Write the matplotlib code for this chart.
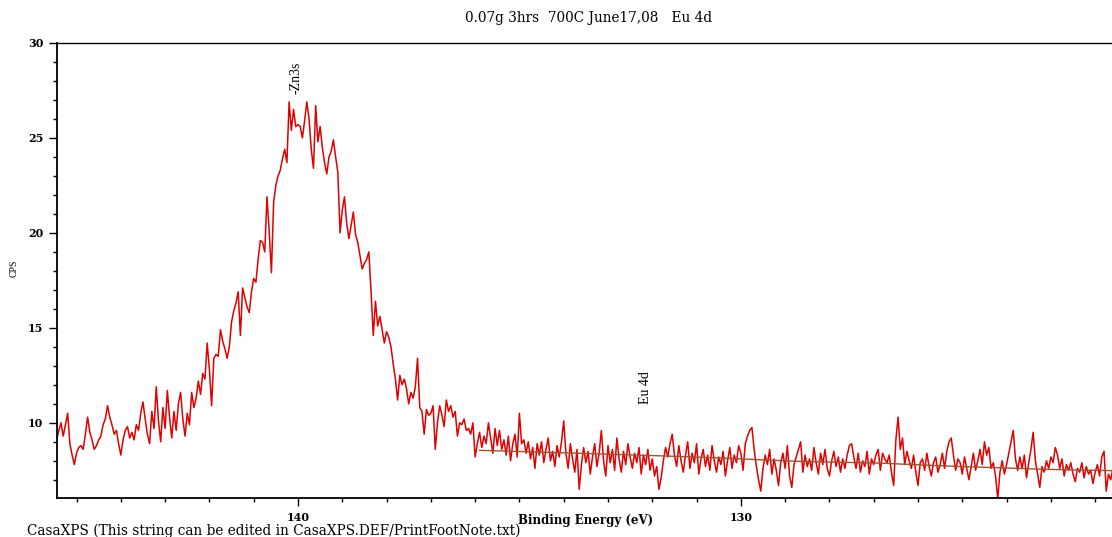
import numpy as np
import matplotlib
matplotlib.use("Agg")
import matplotlib.pyplot as plt
from matplotlib.ticker import MultipleLocator

# Eu 4d region scan, 0.05 eV steps starting at 145.45 eV
be_start = 145.45
be_step = 0.05
cps = [
    9.1, 9.6, 10.0, 9.3, 9.9, 10.5, 8.9, 8.3, 7.8, 8.4, 8.7, 8.8, 8.6, 9.4, 10.3, 9.5, 9.1, 8.6, 8.8, 9.1,
    9.3, 9.9, 10.2, 10.9, 10.3, 9.9, 9.4, 9.6, 8.9, 8.3, 9.1, 9.6, 9.8, 9.2, 9.5, 9.1, 9.9, 9.6, 10.5, 11.1,
    10.2, 9.4, 8.9, 10.6, 9.7, 11.9, 10.1, 9.0, 10.8, 9.7, 11.7, 10.3, 9.2, 10.6, 9.6, 11.0, 11.6, 10.2, 9.3, 10.5,
    9.9, 11.6, 10.8, 11.3, 12.2, 11.5, 12.6, 12.3, 14.2, 12.8, 10.9, 13.4, 13.6, 13.5, 14.9, 14.3, 13.9, 13.4, 14.0, 15.3,
    15.9, 16.3, 16.9, 14.6, 17.1, 16.6, 16.1, 15.8, 16.9, 17.6, 17.4, 18.6, 19.6, 19.5, 19.0, 21.9, 20.1, 17.9, 21.6, 22.5,
    23.0, 23.3, 23.9, 24.4, 23.7, 26.9, 25.4, 26.5, 25.6, 25.7, 25.6, 25.0, 25.9, 26.9, 26.0, 24.4, 23.4, 26.7, 24.8, 25.6,
    24.5, 23.7, 23.1, 24.0, 24.3, 24.9, 24.0, 23.2, 20.0, 21.2, 21.9, 20.5, 19.7, 20.4, 21.1, 19.9, 19.5, 18.8, 18.1, 18.4,
    18.6, 19.0, 16.9, 14.6, 16.4, 15.1, 15.6, 14.9, 14.2, 14.8, 14.5, 14.0, 13.1, 12.3, 11.2, 12.5, 12.0, 12.3, 11.8, 11.0,
    11.6, 11.3, 11.9, 13.4, 10.8, 10.6, 9.4, 10.7, 10.4, 10.5, 10.9, 8.6, 10.0, 10.9, 10.4, 9.8, 11.2, 10.6, 10.9, 10.3,
    10.6, 9.3, 10.0, 9.9, 10.2, 9.6, 9.7, 9.4, 10.0, 8.2, 8.9, 9.5, 8.7, 9.3, 8.9, 10.0, 9.2, 8.4, 9.7, 8.8,
    9.6, 8.6, 9.1, 8.3, 9.3, 8.0, 8.9, 9.4, 8.2, 10.5, 8.9, 9.1, 8.4, 9.0, 8.1, 8.7, 7.6, 8.9, 8.3, 9.0,
    7.9, 8.6, 9.2, 8.0, 8.5, 7.7, 8.8, 8.2, 9.0, 10.1, 8.4, 7.6, 8.9, 8.1, 7.4, 8.6, 6.5, 7.8, 8.7, 7.9,
    8.5, 7.3, 8.2, 8.9, 7.7, 8.4, 9.6, 8.0, 7.2, 8.8, 7.9, 8.6, 7.5, 9.2, 8.1, 7.4, 8.5, 7.8, 8.9, 8.2,
    7.6, 8.4, 7.9, 8.7, 7.3, 8.3, 7.8, 8.6, 7.5, 8.1, 7.2, 7.7, 6.5, 7.1, 8.0, 8.7, 8.2, 8.9, 9.4, 8.3,
    7.7, 8.8, 8.0, 7.4, 8.3, 9.0, 7.6, 8.4, 7.9, 8.9, 7.3, 8.1, 8.6, 7.7, 8.3, 7.5, 8.8, 8.0, 7.4, 8.2,
    7.8, 8.5, 7.2, 8.0, 8.7, 7.6, 8.3, 7.9, 8.8, 8.4, 7.5, 8.9, 9.3, 9.6, 9.75, 8.6, 7.7, 7.0, 6.4, 7.6,
    8.3, 7.8, 8.6, 7.3, 8.1, 7.5, 6.7, 7.9, 8.4, 7.6, 8.8, 7.2, 6.6, 7.8, 8.2, 8.6, 9.0, 7.4, 8.3, 7.7,
    8.1, 7.5, 8.7, 7.9, 7.3, 8.4, 7.8, 8.6, 7.6, 7.2, 8.0, 8.5, 7.7, 8.2, 7.4, 8.1, 7.6, 8.3, 8.8, 8.9,
    8.2, 7.6, 8.4, 7.4, 8.0, 7.7, 8.5, 7.3, 8.1, 7.8, 8.3, 8.6, 7.5, 8.4, 8.1, 7.9, 8.3, 7.4, 6.7, 9.1,
    10.3, 8.6, 9.2, 7.8, 8.5, 8.0, 7.6, 8.3, 7.4, 6.7, 7.9, 8.1, 7.5, 8.4, 7.7, 7.2, 7.9, 8.2, 7.4, 7.8,
    8.4, 7.6, 8.5, 9.0, 9.2, 8.3, 7.5, 8.1, 7.9, 7.3, 8.2, 7.6, 7.0, 7.7, 8.4, 7.5, 8.0, 8.6, 7.8, 9.0,
    8.3, 8.7, 7.6, 7.9, 7.2, 6.0, 7.4, 8.0, 7.3, 7.8, 8.4, 9.0, 9.6, 8.1, 7.5, 8.2, 7.6, 8.3, 7.1, 7.9,
    8.6, 9.5, 8.0, 7.3, 6.6, 7.7, 7.4, 8.0, 7.6, 8.2, 7.9, 8.7, 8.3, 7.6, 8.1, 7.2, 7.8, 7.5, 7.9, 7.3,
    6.9, 7.6, 7.4, 7.9, 7.1, 7.7, 7.3, 7.5, 6.8, 7.4, 7.8, 7.2, 8.2, 8.5, 6.4, 7.3, 7.0, 7.6, 7.2, 7.4,
]
binding_energy = be_start - be_step * np.arange(len(cps))

# background under the Eu 4d region
bg_energy = [135.9, 134.0, 131.0, 128.7, 126.9, 125.3, 123.1, 121.6]
bg_cps = [8.55, 8.42, 8.2, 7.97, 7.88, 7.72, 7.55, 7.48]

peak_labels = ["-Zn3s", "Eu 4d"]
peak_energy = [140.04, 132.16]
peak_cps = [27.3, 10.97]

serif = "DejaVu Serif"

fig = plt.figure(figsize=(11.12, 5.37), dpi=100)
ax = fig.add_axes([0.0513, 0.0726, 0.9487, 0.8474])

ax.plot(binding_energy, cps, color="#e00000", lw=1.1)
ax.plot(bg_energy, bg_cps, color="#a0522d", lw=1.0)

for lab, e, c in zip(peak_labels, peak_energy, peak_cps):
    ax.text(e, c, lab, rotation=90, ha="center", va="bottom",
            family="Liberation Serif", fontsize=10, color="black")

ax.set_xlim(145.44, 121.62)
ax.set_ylim(6.04, 30.0)
ax.xaxis.set_major_locator(MultipleLocator(10))
ax.xaxis.set_minor_locator(MultipleLocator(1))
ax.yaxis.set_major_locator(MultipleLocator(5))
ax.yaxis.set_minor_locator(MultipleLocator(1))
ax.tick_params(which="major", direction="out", length=6, width=1, pad=4,
               labelsize=8)
ax.tick_params(which="minor", direction="out", length=3, width=1)
for lbl in ax.get_xticklabels() + ax.get_yticklabels():
    lbl.set_family(serif)
    lbl.set_fontweight("bold")

ax.spines["right"].set_visible(False)
for s in ["left", "bottom"]:
    ax.spines[s].set_linewidth(1.3)
ax.spines["top"].set_linewidth(1.0)

fig.text(0.529, 0.967, "0.07g 3hrs  700C June17,08   Eu 4d", ha="center",
         va="center", family=serif, fontsize=9.8)
fig.text(0.013, 0.5, "CPS", rotation=90, ha="center", va="center",
         family="Liberation Serif", fontsize=7)
fig.text(0.527, 0.030, "Binding Energy (eV)", ha="center", va="center",
         family=serif, fontsize=8.5, fontweight="bold")
fig.text(0.024, 0.011, "CasaXPS (This string can be edited in CasaXPS.DEF/PrintFootNote.txt)",
         ha="left", va="center", family=serif, fontsize=9.8)

fig.savefig("out.png", dpi=100)
